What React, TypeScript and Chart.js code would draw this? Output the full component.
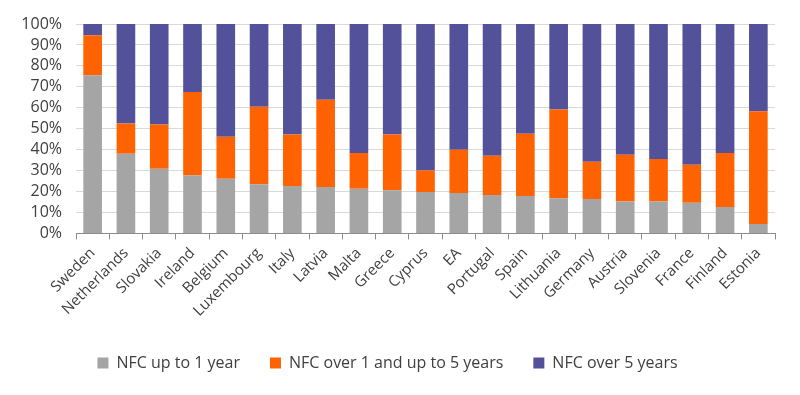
import React, { useEffect, useRef } from "react";
import { Chart, registerables } from "chart.js";

Chart.register(...registerables);

const categories = ["Sweden","Netherlands","Slovakia","Ireland","Belgium","Luxembourg","Italy","Latvia","Malta","Greece","Cyprus","EA","Portugal","Spain","Lithuania","Germany","Austria","Slovenia","France","Finland","Estonia"];
// share up to 1 year (%)
const upTo1Year = [75.5,38.1,30.9,27.7,26.1,23.5,22.7,22.2,21.3,20.6,19.8,19.3,18.4,17.9,16.8,16.5,15.2,15.2,14.7,12.6,4.5];
// cumulative share up to 5 years (%)
const cumUpTo5Years = [94.6,52.5,52.0,67.5,46.2,60.5,47.2,63.8,38.4,47.2,30.0,40.0,37.1,47.6,59.2,34.2,37.6,35.5,32.8,38.4,58.4];
const over1UpTo5 = cumUpTo5Years.map((c, i) => +(c - upTo1Year[i]).toFixed(1));
const over5Years = cumUpTo5Years.map((c) => +(100 - c).toFixed(1));
const seriesNames = ["NFC up to 1 year", "NFC over 1 and up to 5 years", "NFC over 5 years"];
const yTicks = [0,10,20,30,40,50,60,70,80,90,100];

const FONT = "'Open Sans', 'Liberation Sans', sans-serif";
const TEXT = "#404040";

export default function App() {
  const ref = useRef<HTMLCanvasElement | null>(null);
  useEffect(() => {
    document.body.style.margin = "0";
    const chart = new Chart(ref.current as HTMLCanvasElement, {
      type: "bar",
      data: {
        labels: categories,
        datasets: [
          { label: seriesNames[0], data: upTo1Year, backgroundColor: "#A5A5A5" },
          { label: seriesNames[1], data: over1UpTo5, backgroundColor: "#FF6200" },
          { label: seriesNames[2], data: over5Years, backgroundColor: "#525199" },
        ],
      },
      options: {
        animation: false,
        responsive: false,
        maintainAspectRatio: false,
        layout: { padding: { left: 0, right: 25, top: 24, bottom: 14 } },
        datasets: { bar: { categoryPercentage: 1, barPercentage: 0.56 } },
        plugins: {
          tooltip: { enabled: false },
          legend: {
            position: "bottom",
            labels: {
              boxWidth: 11,
              boxHeight: 11,
              padding: 30,
              color: TEXT,
              font: { family: FONT, size: 16 },
            },
          },
        },
        scales: {
          x: {
            stacked: true,
            grid: { drawOnChartArea: false, drawTicks: true, tickLength: 6, color: "#8c8c8c", offset: true },
            border: { color: "#8c8c8c" },
            ticks: { minRotation: 45, maxRotation: 45, autoSkip: false, color: TEXT, font: { family: FONT, size: 15 }, padding: 5 },
          },
          y: {
            stacked: true,
            min: 0,
            max: 100,
            afterFit: (s: any) => { s.width = 76; },
            afterBuildTicks: (s: any) => { s.ticks = yTicks.map((v) => ({ value: v })); },
            grid: { color: "#D9D9D9", drawTicks: false },
            border: { display: false },
            ticks: { autoSkip: false, stepSize: 10, padding: 14, color: TEXT, font: { family: FONT, size: 16 }, callback: (v: any) => v + "%" },
          },
        },
      },
    });
    return () => chart.destroy();
  }, []);
  return (
    <div style={{ position: "absolute", left: 0, top: 0, width: 800, height: 395 }}>
      <canvas ref={ref} width={800} height={395} style={{ width: 800, height: 395 }} />
    </div>
  );
}
